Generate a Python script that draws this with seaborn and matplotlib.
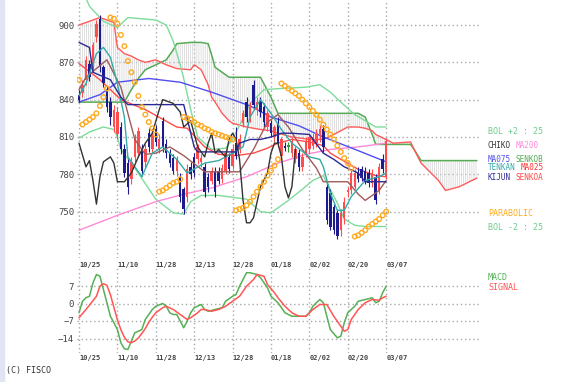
import numpy as np
import pandas as pd
import matplotlib
matplotlib.use("Agg")
import matplotlib.pyplot as plt
from matplotlib.patches import Rectangle
import seaborn as sns

sns.set_style("white")
plt.rcParams['font.family'] = ['DejaVu Sans Mono', 'DejaVu Sans']
plt.rcParams['hatch.linewidth'] = 0.5

# ---- data ----
date_labels = ['10/25', '11/10', '11/28', '12/13', '12/28', '01/18', '02/02', '02/20', '03/07']
date_pos = [0, 11, 22, 33, 44, 55, 66, 77, 88]
price_ticks = [750, 780, 810, 840, 870, 900]
macd_ticks = [7, 0, -7, -14]

opens = [844, 845, 856, 869, 866, 890, 905, 866, 848, 838, 818, 812, 818, 800, 789, 776, 794, 797, 800, 790,
         813, 800, 816, 800, 823, 804, 797, 793, 783, 778, 768, 762, 786, 794, 792, 790, 786, 778, 775, 783,
         783, 776, 783, 794, 787, 805, 800, 821, 838, 826, 852, 832, 838, 834, 818, 821, 810, 821, 795, 803,
         802, 797, 792, 797, 786, 797, 800, 803, 805, 812, 816, 770, 765, 754, 749, 735, 745, 766, 767, 770,
         781, 784, 783, 781, 773, 778, 767, 792, 778]
highs = [848, 856, 875, 872, 886, 904, 908, 868, 850, 842, 836, 834, 822, 804, 792, 794, 812, 818, 804, 804,
         817, 816, 820, 812, 826, 808, 800, 796, 795, 781, 770, 788, 790, 797, 804, 796, 789, 781, 786, 786,
         786, 788, 800, 797, 804, 818, 812, 832, 842, 838, 856, 842, 842, 837, 832, 824, 820, 826, 810, 806,
         806, 810, 803, 800, 797, 810, 812, 813, 816, 820, 820, 772, 768, 756, 752, 752, 762, 770, 784, 784,
         786, 787, 786, 784, 784, 780, 789, 796, 809]
lows = [838, 842, 852, 855, 862, 886, 862, 850, 830, 820, 814, 808, 796, 778, 764, 772, 790, 794, 779, 786,
        798, 797, 803, 797, 798, 793, 786, 780, 779, 758, 748, 758, 776, 778, 788, 786, 762, 766, 772, 762,
        772, 773, 780, 781, 784, 792, 797, 818, 822, 822, 833, 828, 826, 818, 815, 810, 806, 802, 792, 799,
        798, 794, 789, 783, 783, 794, 797, 800, 802, 806, 798, 740, 735, 732, 728, 730, 740, 762, 764, 768,
        774, 775, 772, 770, 770, 756, 764, 781, 776]
closes = [840, 852, 872, 858, 884, 901, 866, 853, 834, 826, 832, 830, 800, 781, 770, 790, 808, 815, 783, 800,
          802, 812, 806, 808, 802, 797, 789, 783, 792, 762, 752, 784, 780, 781, 802, 793, 766, 770, 783, 766,
          775, 785, 797, 784, 800, 795, 808, 829, 826, 834, 836, 838, 830, 822, 829, 813, 818, 805, 808, 801,
          802, 807, 800, 786, 794, 807, 810, 810, 813, 816, 802, 743, 738, 735, 730, 749, 758, 767, 781, 781,
          776, 777, 775, 773, 781, 759, 786, 784, 807]

bb_up_i = [0, 3, 7, 11, 14, 22, 25, 27, 29, 30, 32, 34, 38, 42, 44, 47, 49, 53, 58, 65, 69, 72, 75, 79, 82, 85, 88]
bb_up_v = [935, 915, 903, 898, 906, 904, 900, 887, 868, 857, 832, 810, 800, 801, 808, 825, 837, 848, 849, 850,
           852, 846, 838, 828, 823, 818, 818]
bb_lo_i = [0, 3, 7, 10, 11, 12, 16, 22, 27, 30, 32, 35, 40, 48, 52, 55, 60, 64, 67, 70, 71, 74, 76, 79, 82, 88]
bb_lo_v = [809, 814, 818, 816, 810, 800, 785, 760, 749, 748, 758, 763, 763, 760, 750, 749, 759, 768, 775, 779,
           773, 757, 744, 739, 738, 738]

cloud_i = [0, 6, 10, 11, 13, 15, 17, 19, 22, 25, 27, 28, 32, 33, 35, 37, 38, 39, 41, 43, 44, 48, 52, 55, 57,
           61, 66, 70, 73, 77, 80, 82, 84, 85, 88, 90, 95, 96, 98, 103, 105, 109, 114]
span_a = [900, 906, 902, 882, 877, 875, 872, 870, 872, 868, 866, 865, 864, 868, 864, 852, 842, 838, 829, 823,
          821, 818, 816, 815, 813, 810, 808, 808, 812, 818, 818, 817, 815, 812, 808, 805, 806, 800, 789, 775,
          767, 770, 777]
span_b = [838, 838, 838, 838, 838, 848, 857, 864, 868, 872, 880, 885, 886, 886, 886, 885, 876, 866, 862, 858,
          858, 858, 858, 842, 829, 829, 829, 829, 829, 829, 829, 826, 812, 804, 804, 804, 804, 800, 791, 791,
          791, 791, 791]

ma25_i = [0, 6, 12, 19, 28, 31, 36, 40, 45, 50, 54, 57, 61, 66, 70, 72, 75, 80, 85, 88]
ma25_v = [869, 856, 840, 832, 818, 817, 802, 796, 795, 797, 801, 805, 808, 806, 803, 797, 792, 784, 779, 778]
ma75_i = [0, 6, 11, 20, 29, 38, 49, 55, 63, 70, 80, 88]
ma75_v = [838, 844, 854, 857, 854, 846, 835, 826, 819, 810, 799, 790]
ma200_i = [0, 11, 22, 30, 38, 48, 57, 65, 72, 80, 88]
ma200_v = [735, 747, 758, 764, 769, 778, 789, 796, 800, 802, 805]

kijun_i = [0, 3, 4, 9, 12, 14, 30, 33, 34, 45, 46, 49, 52, 55, 58, 61, 66, 70, 73, 76, 80, 82, 88]
kijun_v = [886, 882, 862, 856, 842, 836, 836, 802, 798, 798, 805, 808, 808, 810, 813, 813, 812, 797, 792, 786,
           781, 774, 774]
tenkan_i = [0, 2, 5, 7, 9, 11, 13, 14, 18, 21, 24, 28, 31, 36, 40, 44, 47, 49, 52, 55, 58, 61, 66, 69, 70, 72,
            74, 76, 78, 82, 86, 88]
tenkan_v = [843, 853, 877, 882, 874, 853, 826, 794, 778, 797, 802, 792, 781, 789, 791, 797, 802, 826, 840, 829,
            816, 805, 794, 792, 786, 765, 751, 751, 762, 775, 778, 781]
brown_i = [0, 2, 8, 12, 16, 19, 22, 26, 30, 36, 46, 50, 54, 57, 60, 64, 68, 70, 77, 80, 82, 84, 86, 88]
brown_v = [848, 858, 872, 850, 808, 796, 797, 802, 795, 782, 782, 800, 822, 828, 818, 800, 785, 774, 774, 764,
           759, 763, 767, 775]
chikou_i = [0, 2, 3, 4, 5, 6, 7, 9, 10, 11, 13, 15, 17, 19, 21, 23, 24, 27, 29, 30, 32, 34, 36, 37, 38, 39, 40,
            42, 43, 44, 45, 46, 47, 48, 49, 50, 52, 54, 55, 56, 57, 58, 59, 60, 61, 62]
chikou_v = [805, 786, 791, 775, 756, 778, 790, 794, 789, 774, 774, 781, 794, 805, 813, 832, 840, 837, 830, 818,
            823, 802, 794, 805, 813, 797, 800, 794, 808, 813, 808, 792, 759, 741, 741, 745, 770, 781, 797, 805,
            805, 794, 770, 761, 770, 800]

parabolic = [856,
             820, 822, 824, 826, 829, 835, 842, 849,
             906, 905, 901, 892, 883, 871, 862, 854, 843, 834, 828, 822, 817, 812,
             766, 767, 769, 771, 773, 774, 776,
             826, 825, 824, 822, 820, 819, 817, 816, 814, 813, 812, 811, 810, 809, 808,
             751, 752, 753, 755, 758, 762, 766, 770, 774, 779, 783, 787, 792,
             853, 851, 849, 847, 845, 843, 840, 837, 834, 831, 828, 824, 820, 816, 812, 808, 803, 798, 793, 789, 785,
             730, 731, 733, 735, 738, 740, 742, 744, 747, 750]

macd_i = [0, 1, 2, 3, 4, 5, 6, 7, 8, 9, 10, 11, 12, 13, 14, 15, 16, 17, 18, 19, 21, 22, 24, 25, 26, 27, 28, 30,
          31, 32, 33, 35, 36, 37, 39, 41, 42, 44, 45, 46, 48, 49, 51, 52, 54, 55, 56, 57, 59, 61, 63, 65, 66, 67,
          68, 69, 70, 71, 72, 74, 75, 76, 77, 79, 80, 82, 83, 84, 85, 86, 87, 88]
macd_v = [-3.7, 0.9, 2.3, 2.9, 8.2, 11.6, 10.9, 5.6, 0.3, -5.1, -7.7, -10.4, -15.7, -18.1, -18.4, -15.1, -11.7,
          -11.1, -10.4, -6.4, -2.4, -1.1, 0.0, -1.1, -3.7, -4.4, -4.4, -9.7, -7.1, -3.7, -1.7, -0.4, -2.4, -3.1,
          -2.4, -1.7, 0.9, 2.9, 3.6, 6.9, 12.3, 12.3, 11.6, 10.3, 6.3, 2.9, 1.6, 0.3, -3.7, -5.1, -5.1, -5.1,
          -3.7, -1.1, 0.3, 1.6, 0.3, -5.1, -10.4, -13.7, -13.1, -7.7, -3.7, -1.1, 0.9, 1.6, 1.9, 2.3, 0.3, 0.9,
          4.3, 6.9]
signal_i = [0, 2, 5, 6, 7, 8, 9, 10, 11, 12, 13, 14, 15, 16, 17, 18, 19, 20, 21, 22, 24, 25, 27, 29, 31, 32, 34,
            35, 36, 38, 40, 42, 44, 46, 48, 50, 51, 53, 54, 56, 57, 59, 61, 63, 65, 67, 69, 71, 73, 75, 76, 77,
            78, 80, 82, 84, 86, 87, 88]
signal_v = [-5.7, -2.4, 2.9, 6.9, 7.9, 7.3, 3.5, -1.5, -6.5, -10.5, -13.5, -15.3, -15.7, -15.0, -13.8, -12.0,
            -10.0, -7.5, -5.5, -3.7, -1.7, -1.1, -2.4, -4.4, -6.4, -5.7, -3.7, -2.4, -2.4, -3.1, -2.4, -1.1, 0.9,
            2.9, 6.9, 9.6, 11.6, 10.9, 7.6, 4.3, 2.3, -1.1, -3.7, -5.1, -5.1, -2.4, -0.4, -0.4, -5.1, -9.1, -11.1,
            -10.4, -6.4, -2.4, 0.3, 1.6, 1.3, 2.3, 2.9]

# ---- figure ----
W, H = 563, 382
fig = plt.figure(figsize=(W / 100, H / 100), dpi=100)
fig.patch.set_facecolor('white')
fig.patches.append(Rectangle((0, 0), 4 / W, 1, transform=fig.transFigure, color='#e2e5f1', zorder=0))


def px_axes(x0, y0, x1, y1):
    return fig.add_axes([x0 / W, 1 - y1 / H, (x1 - x0) / W, (y1 - y0) / H])


ax = px_axes(77, 0, 479, 258)
axm = px_axes(77, 268, 479, 353)

grid_kw = dict(color='#a8a8a8', linestyle=(0, (1, 2)), linewidth=1.0)
for a in (ax, axm):
    a.set_xlim(-0.57, 114.6)
    for s in a.spines.values():
        s.set_visible(False)
    a.set_xticks(date_pos)
    a.set_xticklabels(date_labels, ha='left', fontsize=5, fontweight='bold', color='#333333')
    a.tick_params(length=0, labelsize=6.5, labelcolor='#444444', pad=2)
    a.tick_params(axis='x', labelsize=5, pad=3)
    a.grid(True, **grid_kw)
    a.set_axisbelow(True)

ax.set_ylim(712.7, 920.1)
ax.set_yticks(price_ticks)
axm.set_ylim(-19.8, 14.2)
axm.set_yticks(macd_ticks)
axm.tick_params(axis='x', pad=1.5)

# ichimoku cloud (vertical hatching between the spans)
ax.fill_between(cloud_i, span_a, span_b, facecolor='none', edgecolor='#d2d2d2', hatch='|' * 8, linewidth=0,
                zorder=1)


def line(a, xs, ys, color, lw=1.0, z=3):
    sns.lineplot(x=xs, y=ys, ax=a, color=color, linewidth=lw, estimator=None, sort=False, zorder=z)


line(ax, cloud_i, span_b, '#55aa55', 1.1)
line(ax, cloud_i, span_a, '#ff5a5a', 1.0)
line(ax, bb_up_i, bb_up_v, '#7ddc9a', 1.0)
line(ax, bb_lo_i, bb_lo_v, '#7ddc9a', 1.0)
line(ax, ma200_i, ma200_v, '#ff8ad8', 1.0)
line(ax, ma75_i, ma75_v, '#4f4ff0', 1.0)
line(ax, ma25_i, ma25_v, '#ff4a4a', 1.0)

# candles
idx = np.arange(len(closes))
o = np.array(opens)
c = np.array(closes)
cols = np.where(c > o, '#ff4d4d', np.where(c < o, '#1c1c8e', '#2f9a2f'))
ax.vlines(idx, lows, highs, colors=cols, linewidth=0.8, zorder=4)
ax.bar(idx, np.maximum(np.abs(c - o), 1.2), bottom=np.minimum(o, c), width=0.7, color=cols, linewidth=0,
       zorder=4)

line(ax, brown_i, brown_v, '#a05a5a', 1.0, 5)
line(ax, tenkan_i, tenkan_v, '#35aaa8', 1.0, 5)
line(ax, kijun_i, kijun_v, '#2a2a96', 1.0, 5)
line(ax, chikou_i, chikou_v, '#333333', 1.0, 5)

sns.scatterplot(x=idx, y=parabolic, ax=ax, marker='o', s=11, facecolor='none', edgecolor='#ffaa1e',
                linewidth=1.0, zorder=6)

# macd
line(axm, macd_i, macd_v, '#55b055', 1.1)
line(axm, signal_i, signal_v, '#ff5555', 1.1)
axm.set_ylabel('')
ax.set_ylabel('')


# labels at right
def label(x, y, s, color, size=6):
    fig.text(x / W, 1 - y / H, s, color=color, fontsize=size, va='center', ha='left')


label(488, 132, 'BOL +2 : 25', '#6ccc8a')
label(488, 145, 'CHIKO', '#333333', 5.5)
label(516, 145, 'MA200', '#ff8ad8', 5.5)
label(488, 159, 'MA075', '#4f4ff0', 5.5)
label(516, 159, 'SENKOB', '#55aa55', 5.5)
label(488, 168, 'TENKAN', '#35aaa8', 5.5)
label(521, 168, 'MA025', '#ff3030', 5.5)
label(488, 177, 'KIJUN', '#2a2a96', 5.5)
label(516, 177, 'SENKOA', '#ff4a4a', 5.5)
label(488, 213, 'PARABOLIC', '#ffaa1e')
label(488, 228, 'BOL -2 : 25', '#6ccc8a')
label(488, 278, 'MACD', '#55b055')
label(488, 288, 'SIGNAL', '#ff5555')
label(6, 370, '(C) FISCO', '#333333')

fig.savefig('out.png', dpi=100, facecolor='white')
